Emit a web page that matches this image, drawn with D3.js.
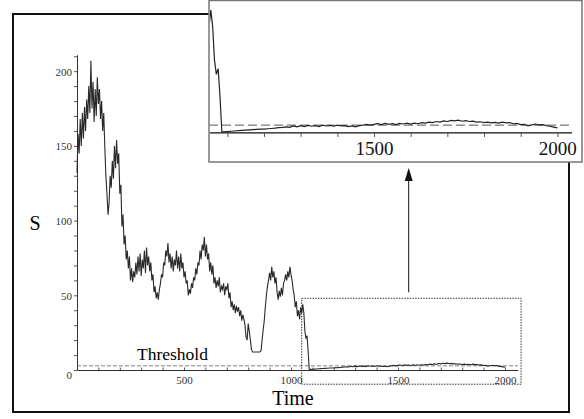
<!DOCTYPE html>
<html>
<head>
<meta charset="utf-8">
<script src="https://cdn.jsdelivr.net/npm/d3@7"></script>
<style>
  body { margin: 0; background: #fff; }
  svg { display: block; font-family: "Liberation Serif", "Times New Roman", serif; }
</style>
</head>
<body>
<div class="chart"></div>
<script>
// S values sampled every 5 time units, t = 0 .. 1085
var stepEarly = 5;
var sEarly = [
  132, 158, 145, 168, 150, 172, 155, 176, 160, 181,
  168, 190, 172, 207, 175, 193, 166, 188, 170, 196,
  178, 188, 168, 180, 160, 172, 149, 130, 118, 104,
  112, 130, 122, 140, 128, 150, 135, 154, 138, 145,
  118, 124, 96, 104, 84, 90, 74, 80, 68, 76,
  60, 68, 59, 66, 62, 72, 64, 76, 66, 78,
  63, 74, 68, 80, 65, 82, 70, 76, 66, 72,
  60, 64, 52, 56, 48, 52, 47, 54, 58, 64,
  62, 72, 70, 80, 76, 85, 72, 78, 68, 76,
  66, 74, 70, 80, 68, 76, 66, 78, 68, 72,
  62, 66, 58, 60, 50, 54, 51, 58, 55, 62,
  60, 68, 64, 72, 70, 80, 74, 84, 80, 89,
  76, 84, 74, 78, 66, 72, 64, 70, 58, 62,
  55, 60, 56, 62, 52, 56, 54, 58, 50, 56,
  54, 58, 48, 52, 42, 46, 40, 44, 38, 43,
  39, 42, 36, 40, 33, 37, 34, 30, 22, 20,
  31, 26, 20, 14, 12, 12, 12, 12, 12, 12,
  12, 12, 13, 20, 27, 33, 42, 50, 56, 60,
  65, 60, 69, 62, 66, 58, 62, 52, 47, 53,
  49, 55, 50, 58, 60, 64, 60, 66, 62, 69,
  64, 60, 54, 50, 42, 46, 36, 40, 34, 42,
  38, 44, 38, 26, 21, 23, 13, 0.5
];

// after the collapse: S every 10 time units, t = 1090 .. 2000
var tailStart = 1090, tailStep = 10;
var sTail = [
  0.4, 0.5, 0.6, 0.7, 0.8, 0.9, 1.0, 1.1, 1.2, 1.3,
  1.35, 1.4, 1.5, 1.6, 1.7, 1.9, 2.0, 2.2, 2.0, 2.5,
  2.2, 2.6, 2.3, 2.7, 2.4, 2.6, 2.3, 2.8, 2.5, 2.7,
  2.4, 2.8, 2.5, 2.6, 2.3, 2.5, 2.2, 2.6, 2.8, 3.1,
  2.8, 3.1, 3.3, 3.0, 3.4, 3.1, 3.3, 3.0, 3.4, 3.2,
  3.5, 3.2, 3.5, 3.3, 3.7, 3.5, 3.9, 3.7, 4.1, 3.9,
  4.3, 4.1, 4.5, 4.3, 4.6, 4.2, 4.4, 4.1, 4.2, 3.9,
  4.0, 3.7, 3.9, 3.6, 3.8, 3.5, 3.9, 3.6, 3.7, 3.3,
  3.4, 3.0, 3.1, 2.5, 2.9, 3.2, 2.9, 3.0, 2.6, 2.4,
  2.1, 1.8
];

var threshold = 2.8;
var yTicksMajor = [0, 50, 100, 150, 200];
var xTicksMajor = [500, 1000, 1500, 2000];
var insetTicksMajor = [1500, 2000];
var zoomWindowT = [1050, 2075];
var zoomWindowS = [-9.5, 48];

var serif = "'Liberation Serif', 'Times New Roman', serif";

var data = sEarly.map(function(s, i) { return {t: i * stepEarly, s: s}; })
  .concat(sTail.map(function(s, i) { return {t: tailStart + i * tailStep, s: s}; }));

var svg = d3.select(".chart").append("svg")
  .attr("width", 584)
  .attr("height", 419);

// outer frame
svg.append("rect")
  .attr("x", 13).attr("y", 14)
  .attr("width", 556).attr("height", 398)
  .attr("fill", "none")
  .attr("stroke", "#111")
  .attr("stroke-width", 2);

var x = d3.scaleLinear().domain([0, 2060]).range([77, 77 + 2060 * 0.214]);
var y = d3.scaleLinear().domain([0, 211]).range([370, 370 - 211 * 1.494]);

// y axis
var yAxis = d3.axisLeft(y)
  .tickValues(d3.range(0, 211, 10))
  .tickSize(3)
  .tickSizeOuter(0)
  .tickFormat(function(d) { return yTicksMajor.indexOf(d) >= 0 ? d : ""; });
var gy = svg.append("g")
  .attr("transform", "translate(" + x(0) + ",0)")
  .call(yAxis)
  .attr("font-family", serif)
  .attr("font-size", 11);
gy.selectAll("text")
  .attr("dy", function(d) { return d === 0 ? "0.75em" : "0.35em"; })
  .attr("x", -5);

// x axis
var xAxis = d3.axisBottom(x)
  .tickValues(d3.range(100, 2001, 100))
  .tickSize(-2.5)
  .tickSizeOuter(0)
  .tickFormat(function(d) { return xTicksMajor.indexOf(d) >= 0 ? d : ""; });
var gx = svg.append("g")
  .attr("transform", "translate(0," + y(0) + ")")
  .call(xAxis)
  .attr("font-family", serif)
  .attr("font-size", 11);
gx.selectAll("text").attr("y", 6);

svg.selectAll(".domain").attr("stroke", "#333");
svg.selectAll(".tick line").attr("stroke", "#555");
svg.selectAll(".tick text").attr("fill", "#333");

// threshold
svg.append("line")
  .attr("x1", x(0)).attr("x2", x(2060))
  .attr("y1", y(threshold)).attr("y2", y(threshold))
  .attr("stroke", "#666")
  .attr("stroke-width", 0.8)
  .attr("stroke-dasharray", "4,2");

svg.append("text")
  .attr("x", 137).attr("y", 360)
  .style("font-size", "17.5px")
  .text("Threshold");

// series
var line = d3.line()
  .x(function(d) { return x(d.t); })
  .y(function(d) { return y(d.s); });

svg.append("path")
  .datum(data)
  .attr("d", line)
  .attr("fill", "none")
  .attr("stroke", "#2a2a2a")
  .attr("stroke-width", 1.1);

// zoom window
svg.append("rect")
  .attr("x", x(zoomWindowT[0]))
  .attr("y", y(zoomWindowS[1]))
  .attr("width", x(zoomWindowT[1]) - x(zoomWindowT[0]))
  .attr("height", y(zoomWindowS[0]) - y(zoomWindowS[1]))
  .attr("fill", "none")
  .attr("stroke", "#333")
  .attr("stroke-width", 1)
  .attr("stroke-dasharray", "1.5,1.2");

// axis titles
svg.append("text")
  .attr("x", 293).attr("y", 405)
  .attr("text-anchor", "middle")
  .style("font-size", "20px")
  .text("Time");

svg.append("text")
  .attr("x", 35).attr("y", 230)
  .attr("text-anchor", "middle")
  .style("font-size", "20px")
  .text("S");

// arrow to inset
var arrowX = x(1550);
svg.append("line")
  .attr("x1", arrowX).attr("x2", arrowX)
  .attr("y1", y(zoomWindowS[1]) - 6).attr("y2", 180)
  .attr("stroke", "#111")
  .attr("stroke-width", 1);
svg.append("path")
  .attr("d", "M" + arrowX + ",168 L" + (arrowX - 4) + ",181 L" + (arrowX + 4) + ",181 Z")
  .attr("fill", "#111");

// inset
var inset = {left: 209, top: 0.5, right: 582, bottom: 162};
svg.append("rect")
  .attr("x", inset.left).attr("y", inset.top)
  .attr("width", inset.right - inset.left)
  .attr("height", inset.bottom - inset.top)
  .attr("fill", "#fff")
  .attr("stroke", "#777")
  .attr("stroke-width", 1.5);

var xi = d3.scaleLinear().domain([1050, 2050]).range([209, 575.7]);
var yi = d3.scaleLinear().domain([-10.4, 47.6]).range([162, 0]);

svg.append("clipPath").attr("id", "insetClip")
  .append("rect")
  .attr("x", inset.left + 1).attr("y", inset.top + 1)
  .attr("width", inset.right - inset.left - 2)
  .attr("height", inset.bottom - inset.top - 2);

var gi = svg.append("g").attr("clip-path", "url(#insetClip)");

gi.append("line")
  .attr("x1", inset.left).attr("x2", xi(2040))
  .attr("y1", yi(threshold)).attr("y2", yi(threshold))
  .attr("stroke", "#555")
  .attr("stroke-width", 1)
  .attr("stroke-dasharray", "9,4");

var insetAxis = d3.axisBottom(xi)
  .tickValues(d3.range(1100, 2001, 100))
  .tickSize(4)
  .tickSizeOuter(0)
  .tickFormat(function(d) { return insetTicksMajor.indexOf(d) >= 0 ? d : ""; });
var gia = gi.append("g")
  .attr("transform", "translate(0," + yi(0) + ")")
  .call(insetAxis)
  .attr("font-family", serif)
  .attr("font-size", 19);
gia.select(".domain").attr("d", "M" + inset.left + ",0H" + xi(2040)).attr("stroke", "#111").attr("stroke-width", 1.2);
gia.selectAll(".tick line").attr("stroke", "#555");
gia.selectAll(".tick text")
  .attr("y", 9)
  .attr("fill", "#111");

var lineInset = d3.line()
  .x(function(d) { return xi(d.t); })
  .y(function(d) { return yi(d.s); });

gi.append("path")
  .datum(data.filter(function(d) { return d.t >= 1030; }))
  .attr("d", lineInset)
  .attr("fill", "none")
  .attr("stroke", "#222")
  .attr("stroke-width", 1.2);
</script>
</body>
</html>
